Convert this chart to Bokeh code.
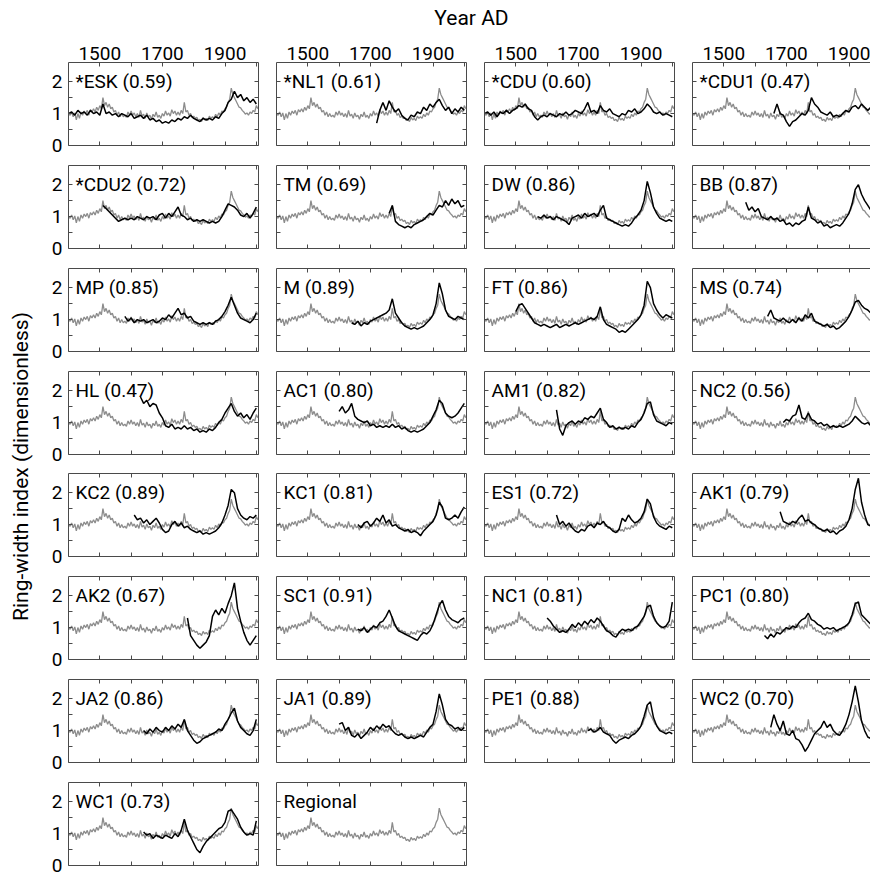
import math
from bokeh.plotting import figure
from bokeh.models import LinearAxis, FixedTicker, Label
from bokeh.layouts import column, row
from bokeh.embed import file_html
from bokeh.resources import INLINE

# ---------------- data ----------------
# Regional chronology (grey), 5-year readings 1400-2005
regional_start = 1400
regional_step = 5
regional = [
    1.00, 0.95, 1.05, 0.90, 1.02, 0.80, 1.00, 0.85, 1.05, 0.95, 1.08, 1.00, 1.10, 0.95, 1.12, 1.05, 1.15, 1.05, 1.20, 1.10,
    1.25, 1.15, 1.50, 1.25, 1.35, 1.20, 1.30, 1.15, 1.20, 1.05, 1.10, 0.95, 1.05, 0.90, 1.00, 0.90, 0.95, 0.88, 1.05, 0.95,
    1.08, 0.95, 1.02, 0.90, 1.00, 0.88, 1.10, 0.92, 0.98, 0.85, 1.02, 0.90, 0.95, 0.82, 0.98, 0.90, 1.05, 0.88, 0.95, 0.85,
    1.00, 0.92, 1.08, 0.95, 1.02, 0.92, 1.12, 1.00, 1.08, 0.95, 1.05, 0.95, 1.10, 1.00, 1.35, 1.05, 1.10, 0.95, 1.00, 0.88,
    0.92, 0.85, 0.88, 0.78, 0.82, 0.75, 0.88, 0.80, 0.85, 0.78, 0.92, 0.85, 0.90, 0.85, 0.98, 0.90, 1.02, 0.95, 1.08, 1.05,
    1.15, 1.20, 1.35, 1.45, 1.80, 1.60, 1.50, 1.40, 1.30, 1.20, 1.18, 1.10, 1.05, 0.98, 1.02, 0.95, 1.05, 1.00, 1.10, 1.05,
    1.25, 1.15,
]

# Site chronologies (black), 10-year readings from the given start year
site_names = ["*ESK", "*NL1", "*CDU", "*CDU1", "*CDU2", "TM", "DW", "BB", "MP", "M", "FT", "MS",
              "HL", "AC1", "AM1", "NC2", "KC2", "KC1", "ES1", "AK1", "AK2", "SC1", "NC1", "PC1",
              "JA2", "JA1", "PE1", "WC2", "WC1"]
site_r = ["0.59", "0.61", "0.60", "0.47", "0.72", "0.69", "0.86", "0.87", "0.85", "0.89", "0.86", "0.74",
          "0.47", "0.80", "0.82", "0.56", "0.89", "0.81", "0.72", "0.79", "0.67", "0.91", "0.81", "0.80",
          "0.86", "0.89", "0.88", "0.70", "0.73"]
site_start = [1400, 1720, 1400, 1660, 1510, 1760, 1570, 1570, 1580, 1640, 1500, 1640,
              1630, 1600, 1630, 1690, 1610, 1660, 1630, 1680, 1780, 1660, 1600, 1630,
              1640, 1600, 1730, 1650, 1640]

ESK = [1.0, 1.05, 0.95, 1.1, 1.0, 1.05, 0.95, 1.1, 1.0, 1.05, 0.95, 1.3, 1.0, 1.05, 0.95, 1.0, 0.9, 1.0, 0.95, 0.9,
       1.0, 0.85, 0.9, 0.95, 0.85, 0.95, 0.8, 0.85, 0.75, 0.8, 0.7, 0.75, 0.7, 0.8, 0.75, 0.85, 0.8, 0.9, 0.85, 0.95,
       0.85, 0.8, 0.75, 0.85, 0.8, 0.85, 0.8, 0.9, 0.85, 1.0, 1.1, 1.35, 1.45, 1.7, 1.5, 1.6, 1.4, 1.5, 1.35, 1.45, 1.3]
NL1 = [0.7, 1.1, 1.35, 1.1, 1.4, 1.2, 1.05, 1.15, 0.95, 0.85, 0.8, 0.95, 0.9, 1.05, 1.0, 1.2, 1.1, 1.3, 1.2, 1.35,
       1.45, 1.25, 1.1, 1.2, 1.0, 1.15, 1.05, 1.2, 1.1]
CDU = [1.0, 1.05, 0.95, 1.05, 0.9, 1.05, 1.0, 1.1, 1.0, 1.1, 1.15, 1.25, 1.2, 1.3, 1.15, 1.1, 0.9, 0.8, 0.9, 0.95,
       0.9, 1.0, 0.95, 0.9, 1.0, 0.95, 1.05, 0.95, 1.0, 1.1, 1.05, 1.0, 1.15, 1.35, 1.05, 1.1, 1.0, 1.25, 1.1, 1.05,
       1.15, 1.0, 0.95, 0.9, 1.0, 0.95, 1.1, 1.05, 1.15, 1.0, 1.05, 1.15, 1.3, 1.2, 1.05, 1.0, 1.05, 0.95, 1.0, 0.95, 0.9]
CDU1 = [1.0, 1.3, 1.0, 0.95, 0.75, 0.6, 0.75, 0.8, 0.9, 1.0, 0.95, 1.1, 1.5, 1.3, 1.2, 1.05, 1.0, 0.95, 1.05, 0.9,
        0.95, 0.9, 1.0, 1.1, 1.05, 1.2, 1.25, 1.15, 1.3, 1.2, 1.1, 1.2, 1.15, 1.1, 1.05]
CDU2 = [1.35, 1.25, 1.15, 1.05, 0.95, 0.85, 0.9, 0.95, 0.9, 0.95, 0.9, 1.0, 0.95, 0.9, 1.0, 0.95, 1.0, 0.9, 1.05, 1.1,
        0.95, 1.1, 1.0, 1.15, 1.3, 1.05, 1.0, 0.9, 0.95, 0.85, 0.9, 0.85, 0.9, 0.85, 0.8, 0.85, 0.8, 0.85, 1.0, 1.2,
        1.4, 1.35, 1.3, 1.2, 1.05, 1.0, 1.1, 0.95, 1.1, 1.3]
TM = [1.1, 1.35, 0.85, 0.75, 0.7, 0.65, 0.7, 0.65, 0.75, 0.8, 0.85, 0.9, 1.0, 1.1, 1.05, 1.2, 1.35, 1.3, 1.5, 1.35,
      1.55, 1.4, 1.5, 1.3, 1.35]
DW = [1.0, 0.95, 1.05, 0.95, 1.0, 0.9, 1.0, 0.95, 0.9, 0.85, 0.75, 0.95, 1.0, 1.05, 0.95, 1.1, 1.0, 1.05, 1.1, 1.0,
      1.2, 1.35, 0.95, 0.9, 0.85, 0.8, 0.75, 0.7, 0.75, 0.7, 0.8, 0.95, 1.05, 1.2, 1.5, 2.1, 1.75, 1.3, 1.1, 0.95,
      0.9, 0.85, 0.9, 0.85]
BB = [1.45, 1.2, 1.3, 1.15, 1.25, 1.0, 0.95, 0.9, 1.0, 0.9, 0.95, 0.85, 0.9, 0.75, 0.8, 0.7, 0.8, 0.75, 0.85, 0.9,
      1.3, 0.95, 0.9, 0.8, 0.85, 0.7, 0.75, 0.65, 0.7, 0.75, 0.7, 0.8, 0.95, 1.1, 1.4, 1.85, 2.0, 1.7, 1.5, 1.35,
      1.2, 1.15, 1.05, 1.0]
MP = [1.1, 0.95, 1.05, 0.9, 1.0, 0.95, 1.0, 0.9, 0.95, 1.0, 0.9, 0.95, 1.05, 1.0, 1.15, 1.05, 1.2, 1.35, 1.15, 1.2,
      1.05, 1.1, 0.95, 0.9, 0.85, 0.9, 0.85, 0.9, 0.85, 0.95, 1.0, 1.1, 1.25, 1.45, 1.7, 1.45, 1.2, 1.05, 1.0, 0.95,
      0.9, 1.0, 1.2]
M = [0.9, 0.85, 0.95, 0.8, 0.9, 0.85, 0.95, 1.0, 1.05, 1.1, 1.15, 1.2, 1.3, 1.65, 1.2, 1.05, 0.9, 0.8, 0.75, 0.7,
     0.75, 0.7, 0.75, 0.8, 0.9, 1.0, 1.15, 1.5, 2.15, 1.8, 1.3, 1.1, 1.05, 1.0, 1.1, 1.05, 1.0]
FT = [1.25, 1.45, 1.5, 1.35, 1.2, 1.05, 0.9, 0.85, 0.8, 0.85, 0.8, 0.75, 0.8, 0.85, 0.75, 0.8, 0.85, 0.8, 0.85, 0.9,
      0.85, 0.9, 0.95, 1.0, 1.05, 1.0, 1.1, 1.4, 1.0, 0.85, 0.8, 0.75, 0.7, 0.6, 0.65, 0.6, 0.7, 0.8, 0.9, 1.0,
      1.15, 1.45, 2.2, 2.0, 1.5, 1.3, 1.15, 1.05, 1.15, 1.1, 1.05]
MS = [1.1, 1.3, 1.05, 1.0, 0.95, 1.05, 0.95, 0.9, 1.0, 0.9, 1.05, 0.95, 1.15, 1.05, 1.2, 0.95, 0.9, 0.85, 0.8, 0.85,
      0.75, 0.8, 0.7, 0.75, 0.85, 0.95, 1.1, 1.3, 1.55, 1.6, 1.45, 1.35, 1.3, 1.2, 1.1, 1.15, 1.05]
HL = [1.8, 1.6, 1.7, 1.5, 1.6, 1.55, 1.3, 1.15, 0.9, 0.85, 0.95, 0.8, 0.85, 0.8, 0.9, 0.8, 0.85, 0.75, 0.8, 0.7,
      0.75, 0.7, 0.8, 0.75, 0.85, 1.0, 1.1, 1.3, 1.45, 1.6, 1.35, 1.2, 1.3, 1.15, 1.25, 1.1, 1.3, 1.45]
AC1 = [1.35, 1.5, 1.3, 1.4, 1.6, 1.2, 1.1, 1.05, 1.0, 1.05, 0.9, 0.95, 0.85, 0.9, 0.85, 0.9, 0.85, 0.95, 0.85, 0.9,
       0.8, 0.85, 0.75, 0.7, 0.75, 0.7, 0.75, 0.8, 0.9, 1.0, 1.2, 1.4, 1.7, 1.6, 1.3, 1.2, 1.15, 1.2, 1.3, 1.45, 1.6]
AM1 = [1.4, 0.8, 0.6, 0.9, 1.0, 1.05, 0.95, 1.05, 1.0, 1.15, 1.1, 1.2, 1.15, 1.3, 1.45, 1.1, 1.0, 0.85, 0.9, 0.8,
       0.85, 0.8, 0.85, 0.8, 0.9, 0.85, 1.0, 1.1, 1.3, 1.6, 1.65, 1.25, 1.05, 1.0, 0.95, 0.9, 1.0, 0.95]
NC2 = [1.0, 1.1, 1.05, 1.2, 1.25, 1.55, 1.15, 1.1, 1.3, 1.1, 1.05, 0.95, 1.0, 0.9, 0.95, 0.85, 0.9, 0.85, 0.9, 0.85,
       0.9, 0.95, 1.05, 1.2, 1.1, 1.0, 0.95, 1.0, 0.9, 0.95, 1.0, 0.95]
KC2 = [1.3, 1.15, 1.2, 1.05, 1.15, 1.0, 1.1, 1.2, 1.05, 0.85, 0.75, 0.8, 1.0, 1.1, 0.95, 1.05, 0.9, 0.95, 0.85, 0.8,
       0.75, 0.8, 0.7, 0.75, 0.7, 0.75, 0.8, 0.9, 1.05, 1.3, 1.6, 2.1, 2.0, 1.5, 1.3, 1.2, 1.15, 1.25, 1.2, 1.3]
KC1 = [1.0, 0.9, 1.05, 1.1, 0.95, 1.05, 1.2, 1.1, 1.3, 1.05, 1.15, 0.95, 1.0, 0.9, 0.85, 0.8, 0.85, 0.75, 0.8, 0.75,
       0.65, 0.8, 0.9, 1.0, 1.1, 1.3, 1.7, 1.55, 1.2, 1.15, 1.2, 1.3, 1.2, 1.4, 1.55]
ES1 = [1.3, 1.0, 1.1, 0.95, 1.05, 0.9, 0.8, 0.75, 0.85, 0.8, 0.95, 1.0, 0.9, 1.05, 1.0, 1.1, 0.95, 0.9, 0.8, 0.75,
       0.85, 1.2, 1.1, 1.3, 1.15, 1.05, 1.1, 1.2, 1.4, 1.8, 1.65, 1.25, 1.05, 0.95, 0.9, 0.85, 0.95, 0.9]
AK1 = [1.4, 1.1, 1.05, 1.0, 1.1, 1.05, 1.2, 1.3, 1.1, 1.15, 1.05, 1.0, 0.9, 0.85, 0.8, 0.85, 0.75, 0.8, 0.7, 0.8,
       0.85, 0.95, 1.15, 1.5, 2.1, 2.45, 1.7, 1.3, 1.0, 0.95, 0.85, 0.8, 0.75]
AK2 = [1.3, 0.75, 0.6, 0.45, 0.35, 0.45, 0.55, 0.75, 1.35, 1.55, 1.4, 1.6, 1.45, 1.75, 2.0, 2.4, 1.6, 1.2, 0.85, 0.6,
       0.45, 0.6, 0.75]
SC1 = [0.95, 0.9, 1.0, 0.85, 0.95, 1.05, 1.0, 1.15, 1.2, 1.35, 1.55, 1.3, 1.05, 0.9, 0.85, 0.8, 0.75, 0.7, 0.65, 0.6,
       0.75, 0.85, 0.8, 0.9, 1.1, 1.4, 1.7, 1.85, 1.55, 1.35, 1.25, 1.2, 1.15, 1.25, 1.3]
NC1 = [1.3, 1.2, 1.05, 0.95, 0.85, 0.9, 0.85, 0.95, 1.1, 1.0, 1.15, 1.05, 1.2, 1.1, 1.25, 1.15, 1.3, 1.2, 1.05, 0.9,
       0.85, 0.75, 0.7, 0.85, 0.95, 0.9, 0.95, 0.9, 1.0, 1.05, 1.2, 1.35, 1.65, 1.7, 1.35, 1.15, 1.05, 1.0, 1.05, 1.2,
       1.8]
PC1 = [0.75, 0.65, 0.8, 0.7, 0.85, 0.8, 0.9, 1.0, 0.95, 1.05, 1.0, 1.15, 1.25, 1.3, 1.45, 1.25, 1.2, 1.1, 1.05, 0.95,
       1.0, 0.95, 1.0, 0.9, 0.95, 1.0, 1.05, 1.15, 1.4, 1.75, 1.8, 1.4, 1.3, 1.2, 1.1, 1.05, 1.0, 0.95]
JA2 = [1.0, 0.9, 1.05, 0.95, 1.1, 1.0, 0.95, 1.1, 1.0, 1.15, 1.05, 1.2, 1.1, 1.35, 1.0, 0.85, 0.7, 0.6, 0.65, 0.75,
       0.8, 0.85, 0.9, 0.95, 1.05, 1.0, 1.2, 1.35, 1.55, 1.7, 1.3, 1.1, 1.0, 0.9, 0.85, 1.0, 1.35]
JA1 = [1.2, 1.25, 1.0, 1.1, 0.85, 0.8, 0.9, 0.75, 0.85, 0.95, 1.1, 1.0, 1.15, 1.05, 1.2, 1.1, 1.15, 1.0, 0.9, 0.85,
       0.9, 0.8, 0.75, 0.8, 0.75, 0.8, 0.85, 0.8, 0.95, 1.1, 1.2, 1.6, 2.15, 1.8, 1.35, 1.2, 1.15, 1.05, 1.1, 1.0, 1.1]
PE1 = [1.0, 1.05, 0.95, 1.0, 1.1, 0.95, 0.9, 0.85, 0.7, 0.6, 0.7, 0.75, 0.8, 0.75, 0.85, 0.9, 1.0, 1.15, 1.45, 1.8,
       1.9, 1.4, 1.15, 1.0, 0.95, 0.9, 0.95, 0.9]
WC2 = [1.1, 1.5, 1.2, 1.0, 1.3, 0.9, 0.85, 1.0, 0.75, 0.7, 0.55, 0.35, 0.5, 0.7, 0.9, 1.0, 1.1, 1.3, 1.1, 1.2,
       1.0, 0.9, 0.85, 1.0, 1.2, 1.5, 1.9, 2.4, 1.9, 1.3, 1.0, 0.8, 0.75, 0.8, 0.85, 0.9]
WC1 = [1.05, 0.95, 1.0, 0.85, 0.95, 0.9, 0.85, 0.95, 0.9, 0.85, 1.0, 0.9, 1.1, 1.45, 1.1, 0.9, 0.7, 0.5, 0.4, 0.6,
       0.75, 0.85, 0.95, 1.05, 1.15, 1.2, 1.35, 1.7, 1.75, 1.6, 1.45, 1.2, 1.05, 0.95, 1.0, 0.95, 1.4]

site_values = [ESK, NL1, CDU, CDU1, CDU2, TM, DW, BB, MP, M, FT, MS,
               HL, AC1, AM1, NC2, KC2, KC1, ES1, AK1, AK2, SC1, NC1, PC1,
               JA2, JA1, PE1, WC2, WC1]
site_step = 10

x_ticks = [1500, 1600, 1700, 1800, 1900, 2000]
x_tick_labels = {1500: "1500", 1600: "", 1700: "1700", 1800: "", 1900: "1900", 2000: ""}
y_ticks = [0, 0.5, 1, 1.5, 2]
y_tick_labels = {0: "0", 0.5: "", 1: "1", 1.5: "", 2: "2"}

# ---------------- styling ----------------
FONT = "Roboto"
FRAME = "#4a4a4a"
GREY = "#8c8c8c"
FRAME_W = 190
FRAME_H = 83
X0, X1 = 1400, 2007
Y0, Y1 = 0, 2.6
NCOLS = 4
# borders (px) above / below each row of panels
ROW_TOP = [34, 8, 8, 8, 7, 8, 8, 8]
ROW_BOT = [12, 12, 12, 12, 12, 12, 12, 12]

reg_years = [regional_start + regional_step * i for i in range(len(regional))]


def add_axis(p, loc, ticks, overrides=None, standoff=0):
    ax = LinearAxis(ticker=FixedTicker(ticks=ticks))
    ax.axis_line_color = FRAME
    ax.axis_line_width = 1
    ax.major_tick_line_color = FRAME
    ax.major_tick_in = 4
    ax.major_tick_out = 0
    ax.minor_tick_line_color = None
    if overrides is not None:
        ax.major_label_overrides = overrides
        ax.major_label_text_font = FONT
        ax.major_label_text_font_size = "19px"
        ax.major_label_text_color = "black"
        ax.major_label_standoff = standoff
    else:
        ax.major_label_overrides = {t: "" for t in ticks}
        ax.major_label_text_font_size = "1px"
        ax.major_label_standoff = 0
    p.add_layout(ax, loc)


def make_panel(ri, ci, label, years=None, vals=None):
    last = ci == NCOLS - 1
    fw = 178 if last else FRAME_W
    xend = X0 + fw * (X1 - X0) / FRAME_W
    p = figure(frame_width=fw, frame_height=FRAME_H, x_range=(X0, xend), y_range=(Y0, Y1),
               output_backend="svg", toolbar_location=None,
               x_axis_location=None, y_axis_location=None,
               min_border_top=ROW_TOP[ri], min_border_bottom=ROW_BOT[ri],
               min_border_left=28 if ci == 0 else 9, min_border_right=0 if last else 9)
    p.outline_line_color = None
    p.grid.visible = False
    add_axis(p, "above", x_ticks, x_tick_labels if ri == 0 else None, standoff=3)
    add_axis(p, "below", x_ticks)
    add_axis(p, "left", y_ticks, y_tick_labels if ci == 0 else None, standoff=6)
    if not last:
        add_axis(p, "right", y_ticks)
    p.line(reg_years, regional, line_color=GREY, line_width=1.3)
    if years is not None:
        p.line(years, vals, line_color="black", line_width=1.5)
    p.add_layout(Label(x=X0, y=2.0, x_offset=7, text=label, text_font=FONT,
                       text_font_size="19px", text_color="black", text_baseline="middle"))
    return p


panels = []
for i, name in enumerate(site_names):
    vals = site_values[i]
    yrs = [site_start[i] + site_step * k for k in range(len(vals))]
    panels.append((name + " (" + site_r[i] + ")", yrs, vals))
panels.append(("Regional", None, None))

nrows = math.ceil(len(panels) / NCOLS)
rows = []
for ri in range(nrows):
    figs = []
    for ci in range(NCOLS):
        k = ri * NCOLS + ci
        if k >= len(panels):
            break
        lab, yrs, vals = panels[k]
        figs.append(make_panel(ri, ci, lab, yrs, vals))
    rows.append(row(*figs, spacing=0))
grid = column(*rows, spacing=0)

# y-axis title column
ylab = figure(width=40, height=849, x_range=(0, 40), y_range=(0, 849), output_backend="svg",
              toolbar_location=None, x_axis_location=None, y_axis_location=None, min_border=0)
ylab.outline_line_color = None
ylab.grid.visible = False
ylab.add_layout(Label(x=20, y=411, text="Ring-width index (dimensionless)", angle=math.pi / 2,
                      text_align="center", text_baseline="middle", text_font=FONT,
                      text_font_size="21px", text_color="black"))

# x-axis title row
xt = figure(width=870, height=28, x_range=(0, 870), y_range=(0, 28), output_backend="svg",
            toolbar_location=None, x_axis_location=None, y_axis_location=None, min_border=0)
xt.outline_line_color = None
xt.grid.visible = False
xt.add_layout(Label(x=471, y=11, text="Year AD", text_align="center", text_baseline="middle",
                    text_font=FONT, text_font_size="21px", text_color="black"))

layout = column(xt, row(ylab, grid, spacing=0), spacing=0)

with open("out.html", "w") as f:
    f.write(file_html(layout, INLINE))
